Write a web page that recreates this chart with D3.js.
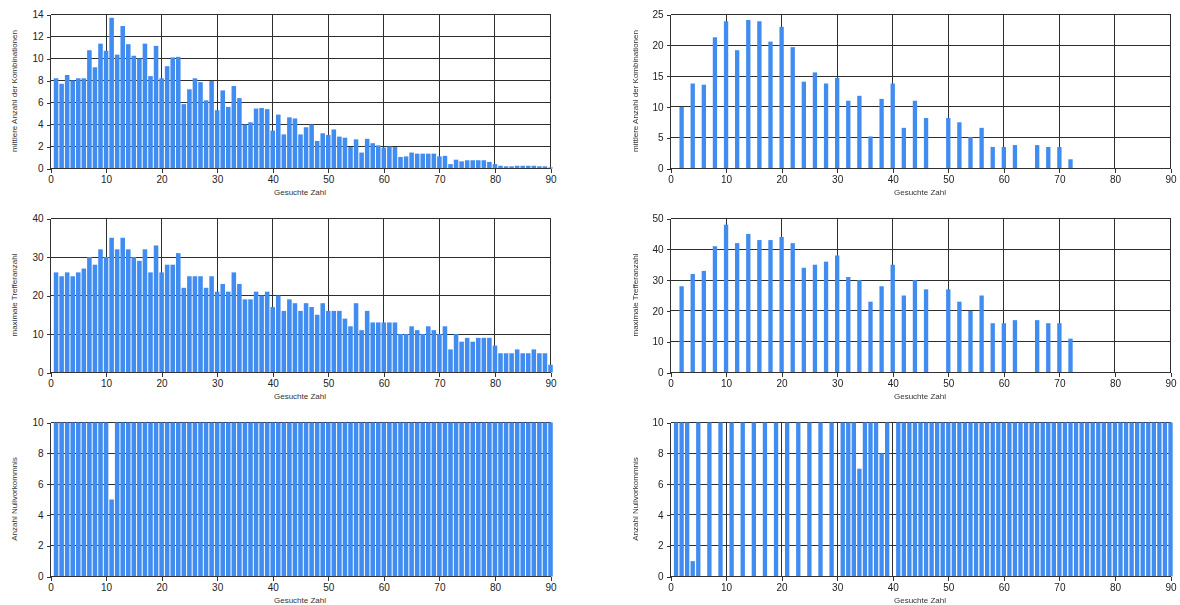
<!DOCTYPE html>
<html>
<head>
<meta charset="utf-8">
<script src="https://cdn.jsdelivr.net/npm/d3@7"></script>
<style>
  body { margin: 0; background: #fff; }
  svg { display: block; font-family: "Liberation Sans", Arial, sans-serif; }
</style>
</head>
<body>
<svg id="chart" width="1180" height="605"></svg>
<script>
// Gesuchte Zahl 1..90 (left column: every number)
const numbersAll = d3.range(1, 91);
const meanCombAll = [
  8.2, 7.7, 8.5, 8.0, 8.2, 8.2, 10.75, 9.2, 11.35, 10.7,
  13.7, 10.35, 12.95, 11.3, 10.25, 10.0, 11.35, 8.4, 11.15, 8.2,
  9.3, 10.1, 10.15, 5.85, 7.2, 8.2, 7.85, 6.2, 7.95, 5.3,
  7.1, 5.6, 7.5, 6.4, 4.0, 4.2, 5.45, 5.5, 5.4, 3.45,
  4.9, 3.1, 4.65, 4.55, 3.1, 3.75, 4.0, 2.5, 3.2, 3.05,
  3.55, 2.9, 2.8, 1.95, 2.65, 1.45, 2.7, 2.3, 2.1, 1.9,
  2.0, 1.95, 1.05, 1.1, 1.45, 1.35, 1.35, 1.35, 1.35, 1.1,
  1.15, 0.4, 0.8, 0.65, 0.75, 0.75, 0.75, 0.75, 0.6, 0.4,
  0.25, 0.2, 0.2, 0.25, 0.25, 0.25, 0.25, 0.2, 0.2, 0.1
];
const maxHitsAll = [
  26, 25, 26, 25, 26, 27, 30, 28, 32, 30,
  35, 32, 35, 32, 30, 29, 32, 26, 33, 26,
  28, 28, 31, 22, 25, 25, 25, 22, 25, 21,
  23, 21, 26, 23, 19, 19, 21, 20, 21, 17,
  20, 16, 19, 18, 16, 18, 17, 15, 18, 16,
  16, 16, 14, 12, 18, 11, 16, 13, 13, 13,
  13, 13, 10, 10, 12, 11, 10, 12, 11, 10,
  12, 6, 10, 8, 9, 8, 9, 9, 9, 7,
  5, 5, 5, 6, 5, 5, 6, 5, 5, 2
];
const zeroCountAll = [
  10, 10, 10, 10, 10, 10, 10, 10, 10, 10,
  5, 10, 10, 10, 10, 10, 10, 10, 10, 10,
  10, 10, 10, 10, 10, 10, 10, 10, 10, 10,
  10, 10, 10, 10, 10, 10, 10, 10, 10, 10,
  10, 10, 10, 10, 10, 10, 10, 10, 10, 10,
  10, 10, 10, 10, 10, 10, 10, 10, 10, 10,
  10, 10, 10, 10, 10, 10, 10, 10, 10, 10,
  10, 10, 10, 10, 10, 10, 10, 10, 10, 10,
  10, 10, 10, 10, 10, 10, 10, 10, 10, 10
];

// Right column: even numbers only
const numbersEven = [
  2, 4, 6, 8, 10, 12, 14, 16, 18, 20, 22, 24, 26, 28, 30, 32, 34,
  36, 38, 40, 42, 44, 46, 50, 52, 54, 56, 58, 60, 62, 66, 68, 70, 72
];
const meanCombEven = [
  10.0, 13.8, 13.6, 21.3, 23.9, 19.2, 24.1, 23.9, 20.6, 23.0, 19.7, 14.1, 15.6, 13.8, 14.7, 11.0, 11.8,
  5.2, 11.3, 13.8, 6.6, 11.0, 8.2, 8.2, 7.5, 5.1, 6.6, 3.5, 3.5, 3.8, 3.8, 3.5, 3.5, 1.5
];
const maxHitsEven = [
  28, 32, 33, 41, 48, 42, 45, 43, 43, 44, 42, 34, 35, 36, 38, 31, 30,
  23, 28, 35, 25, 30, 27, 27, 23, 20, 25, 16, 16, 17, 17, 16, 16, 11
];

// Right column, bottom: numbers with zero-occurrence counts
const numbersZero = [1, 2, 3, 4, 5, 7, 9, 11, 13, 15, 17, 19, 21, 23, 25, 27, 29,
  31, 32, 33, 34, 35, 36, 37, 38, 39].concat(d3.range(41, 91));
const zeroCountSparse = [10, 10, 10, 1, 10, 10, 10, 10, 10, 10, 10, 10, 10, 10, 10, 10, 10,
  10, 10, 10, 7, 10, 10, 10, 8, 10].concat(d3.range(41, 91).map(() => 10));

const xTickValues = d3.range(0, 91, 10);
const yTicksMeanAll = d3.range(0, 15, 2);
const yTicksMaxAll = d3.range(0, 41, 10);
const yTicksZero = d3.range(0, 11, 2);
const yTicksMeanEven = d3.range(0, 26, 5);
const yTicksMaxEven = d3.range(0, 51, 10);

const xTitle = "Gesuchte Zahl";
const titleMean = "mittlere Anzahl der Kombinationen";
const titleMax = "maximale Trefferanzahl";
const titleZero = "Anzahl Nullvorkommnis";

const barColor = "#418CF0";
const gridColor = "#2e2e2e";
const textColor = "#222";

const svg = d3.select("#chart");

const defs = svg.append("defs");
defs.append("filter").attr("id", "soft")
  .attr("x", "-5%").attr("y", "-5%").attr("width", "110%").attr("height", "110%")
  .append("feGaussianBlur").attr("stdDeviation", 0.45);

const leftCol = svg.append("g");
const rightCol = svg.append("g").attr("filter", "url(#soft)");

function drawPanel(parent, cfg) {
  const g = parent.append("g");
  const x = d3.scaleLinear().domain([0, 90]).range([cfg.left + 0.5, cfg.right + 0.5]);
  const y = d3.scaleLinear().domain([0, cfg.yMax]).range([cfg.bottom + 0.5, cfg.top + 0.5]);

  // grid lines
  const grid = g.append("g").attr("shape-rendering", "crispEdges")
    .attr("stroke", gridColor).attr("stroke-width", 1);
  grid.selectAll("line.v").data(xTickValues.filter(d => d > 0)).join("line")
    .attr("class", "v")
    .attr("x1", d => x(d)).attr("x2", d => x(d))
    .attr("y1", y(0)).attr("y2", y(cfg.yMax));
  grid.selectAll("line.h").data(cfg.yTicks.filter(d => d > 0)).join("line")
    .attr("class", "h")
    .attr("x1", x(0)).attr("x2", x(90))
    .attr("y1", d => y(d)).attr("y2", d => y(d));

  // bars
  const unit = x(1) - x(0);
  const bw = unit * cfg.barWidth;
  g.append("g").selectAll("rect").data(cfg.xs.map((v, i) => [v, cfg.values[i]])).join("rect")
    .attr("x", d => x(d[0]) - bw / 2)
    .attr("width", bw)
    .attr("y", d => y(d[1]))
    .attr("height", d => y(0) - y(d[1]))
    .attr("fill", barColor);

  // axes
  const xAxis = d3.axisBottom(x).tickValues(xTickValues).tickSize(4).tickPadding(3)
    .tickFormat(d3.format("d"));
  const yAxis = d3.axisLeft(y).tickValues(cfg.yTicks).tickSize(4).tickPadding(3)
    .tickFormat(d3.format("d"));

  const gx = g.append("g").attr("transform", `translate(0,${y(0)})`).call(xAxis);
  const gy = g.append("g").attr("transform", `translate(${x(0)},0)`).call(yAxis);
  [gx, gy].forEach(a => {
    a.attr("font-family", null).attr("font-size", null);
    a.selectAll("path, line").attr("stroke", "#333").attr("shape-rendering", "crispEdges");
    a.selectAll("text").attr("fill", textColor).style("font-size", "10px");
  });
  gx.select("path.domain").attr("d", `M${x(0)},0H${x(90)}`);
  gy.select("path.domain").attr("d", `M0,${y(0)}V${y(cfg.yMax)}`);

  // titles
  g.append("text")
    .attr("x", (cfg.left + cfg.right) / 2)
    .attr("y", cfg.bottom + 27)
    .attr("text-anchor", "middle")
    .attr("fill", "#333")
    .style("font-size", "8px")
    .text(xTitle);
  g.append("text")
    .attr("transform", `translate(${cfg.titleX},${(cfg.top + cfg.bottom) / 2}) rotate(-90)`)
    .attr("text-anchor", "middle")
    .attr("dy", "0.35em")
    .attr("fill", "#333")
    .style("font-size", "8px")
    .text(cfg.yTitle);
}

const colL = { left: 50, right: 550, titleX: 14.5, barWidth: 0.82 };
const colR = { left: 670, right: 1170, titleX: 635, barWidth: 0.78 };
const rowTop = { top: 14, bottom: 168 };
const rowMid = { top: 218, bottom: 372 };
const rowBot = { top: 422, bottom: 576 };

drawPanel(leftCol, { ...colL, ...rowTop, yMax: 14, yTicks: yTicksMeanAll,
  xs: numbersAll, values: meanCombAll, yTitle: titleMean });
drawPanel(leftCol, { ...colL, ...rowMid, yMax: 40, yTicks: yTicksMaxAll,
  xs: numbersAll, values: maxHitsAll, yTitle: titleMax });
drawPanel(leftCol, { ...colL, ...rowBot, yMax: 10, yTicks: yTicksZero,
  xs: numbersAll, values: zeroCountAll, yTitle: titleZero });

drawPanel(rightCol, { ...colR, ...rowTop, yMax: 25, yTicks: yTicksMeanEven,
  xs: numbersEven, values: meanCombEven, yTitle: titleMean });
drawPanel(rightCol, { ...colR, ...rowMid, yMax: 50, yTicks: yTicksMaxEven,
  xs: numbersEven, values: maxHitsEven, yTitle: titleMax });
drawPanel(rightCol, { ...colR, ...rowBot, yMax: 10, yTicks: yTicksZero,
  xs: numbersZero, values: zeroCountSparse, yTitle: titleZero });
</script>
</body>
</html>
